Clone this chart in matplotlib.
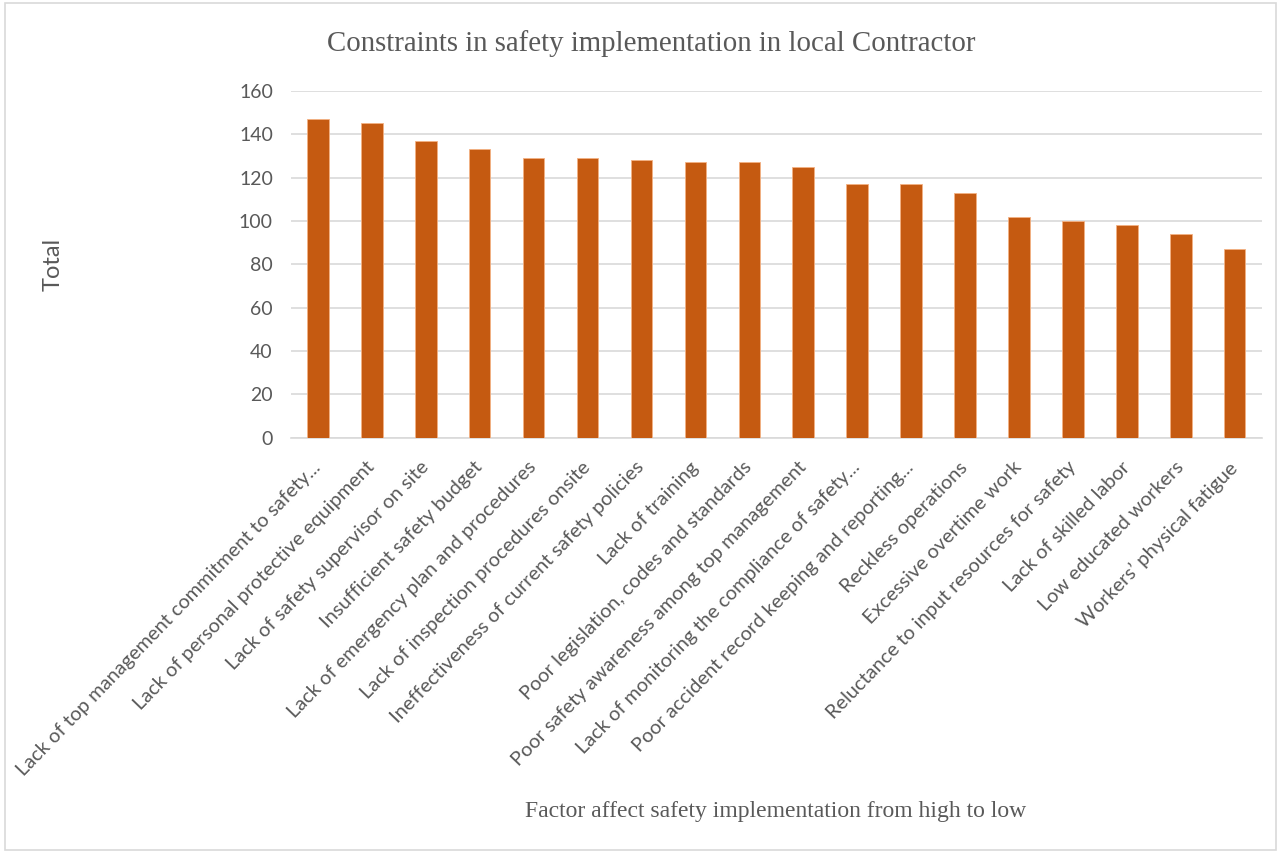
import numpy as np
import matplotlib.pyplot as plt
from matplotlib.patches import Rectangle
from matplotlib.transforms import ScaledTranslation

factors = [
    "Lack of top management commitment to safety...",
    "Lack of personal protective equipment",
    "Lack of safety supervisor on site",
    "Insufficient safety budget",
    "Lack of emergency plan and procedures",
    "Lack of inspection procedures onsite",
    "Ineffectiveness of current safety policies",
    "Lack of training",
    "Poor legislation, codes and standards",
    "Poor safety awareness among top management",
    "Lack of monitoring the compliance of safety...",
    "Poor accident record keeping and reporting...",
    "Reckless operations",
    "Excessive overtime work",
    "Reluctance to input resources for safety",
    "Lack of skilled labor",
    "Low educated workers",
    "Workers\u2019 physical fatigue",
]
totals = [147, 145, 137, 133, 129, 129, 128, 127, 127, 125, 117, 117, 113, 102, 100, 98, 94, 87]
yticks = [0, 20, 40, 60, 80, 100, 120, 140, 160]

grey = "#595959"
bar_color = "#C55A11"
grid_color = "#D9D9D9"

fig = plt.figure(figsize=(12.84, 8.55), dpi=100)
ax = fig.add_axes([0.2266, 0.488, 0.756, 0.4056])

x = np.arange(len(factors))
ax.bar(x, totals, width=0.4, color=bar_color, edgecolor="#F4B183", linewidth=0.6, zorder=3)

ax.set_xlim(-0.5, len(factors) - 0.5)
ax.set_ylim(0, 160)
ax.set_yticks(yticks)
ax.set_yticklabels([str(v) for v in yticks], fontsize=14, color=grey, family="Lato")
ax.yaxis.grid(True, color=grid_color, linewidth=1.2, zorder=0)
ax.tick_params(axis="y", length=0, pad=13)
ax.tick_params(axis="x", length=0, pad=15)

for side in ["top", "right", "left"]:
    ax.spines[side].set_visible(False)
ax.spines["bottom"].set_color(grid_color)
ax.spines["bottom"].set_linewidth(1.2)

ax.set_xticks(x)
ax.set_xticklabels(factors, rotation=46, ha="right", va="top",
                   fontsize=14.4, color=grey, family="Lato")
# nudge the slanted labels a little to the right
shift = ScaledTranslation(6 / 100, 0, fig.dpi_scale_trans)
for lbl in ax.get_xticklabels():
    lbl.set_transform(lbl.get_transform() + shift)

fig.text(0.507, 0.949, "Constraints in safety implementation in local Contractor",
         ha="center", va="center", fontsize=20.8, color=grey, family="Liberation Serif")
fig.text(0.604, 0.051, "Factor affect safety implementation from high to low",
         ha="center", va="center", fontsize=17, color=grey, family="Liberation Serif")
fig.text(0.041, 0.691, "Total", rotation=90, ha="center", va="center",
         fontsize=17, color=grey, family="Lato")

# light frame around the chart area
fig.patches.append(Rectangle((0.004, 0.006), 0.99, 0.99, transform=fig.transFigure,
                             fill=False, edgecolor=grid_color, linewidth=1.2))

fig.savefig("out.png", dpi=100, facecolor="white")
